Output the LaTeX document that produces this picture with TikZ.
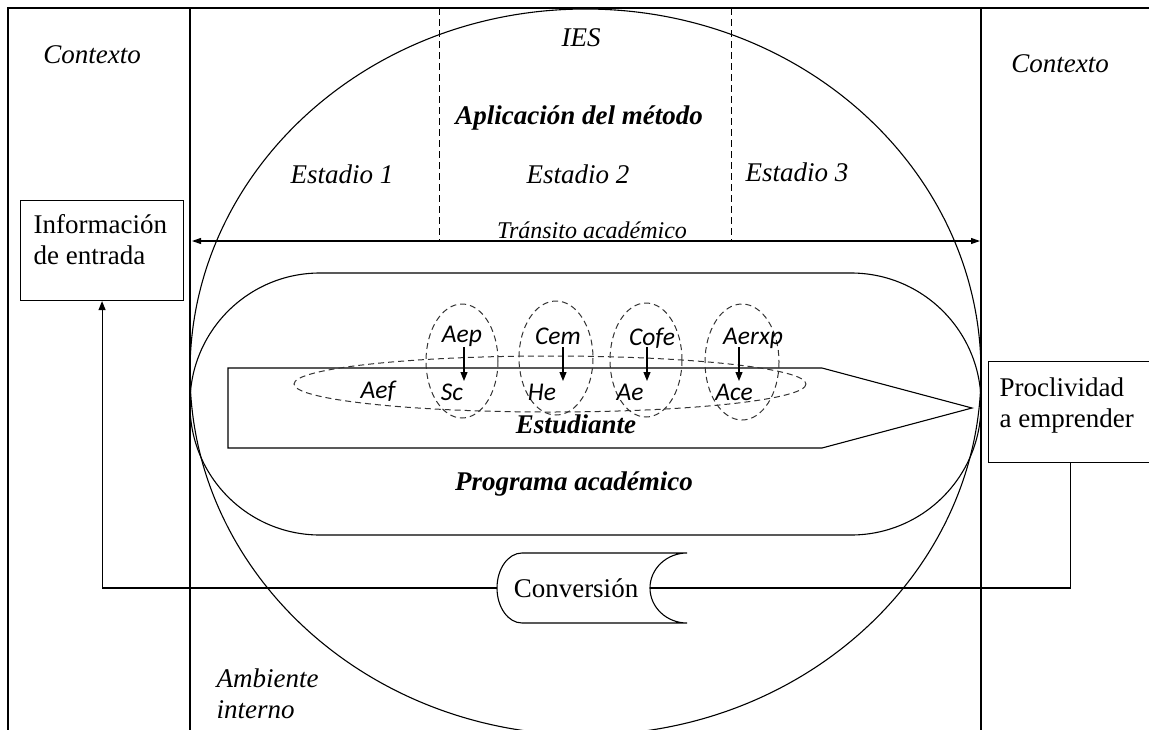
\documentclass[tikz,border=0pt]{standalone}
\usepackage{fontspec}
\setmainfont{Liberation Serif}
\newfontfamily\calfont{Carlito}
\usetikzlibrary{arrows.meta}
\begin{document}
\begin{tikzpicture}[x=1pt,y=-1pt,line width=1.1pt,
  it/.style={font=\fontsize{27}{31}\selectfont\itshape,inner sep=0pt},
  rm/.style={font=\fontsize{27}{31}\selectfont,inner sep=0pt},
  bi/.style={font=\fontsize{27}{31}\selectfont\bfseries\itshape,inner sep=0pt},
  cal/.style={font=\fontsize{25.5}{30}\selectfont\calfont\itshape,inner sep=0pt},
  dsh/.style={dash pattern=on 6pt off 4pt,line width=1pt,draw=black!80},
  tip/.style={-{Triangle[length=9pt,width=7pt]}},
  boxnode/.style={draw,inner sep=0pt,anchor=north west}]
\useasboundingbox (0,0) rectangle (1149,729);
\begin{scope}
\clip (0,0) rectangle (1149,729);
% frame and column lines
\draw (8,740) -- (8,8) -- (1160,8);
\draw (190,8) -- (190,740);
\draw (981,8) -- (981,740);
% big circle (IES)
\draw (585.5,372) ellipse [x radius=395.5, y radius=363];
% stage separators
\draw[dash pattern=on 7pt off 4pt,line width=1pt] (439,8) -- (439,241);
\draw[dash pattern=on 7pt off 4pt,line width=1pt] (731,8) -- (731,241);
% transito arrow
\coordinate (tl) at (192,241);
\coordinate (tr) at (980,241);
\draw[{Triangle[length=9pt,width=6pt]}-{Triangle[length=9pt,width=6pt]}] (tl) -- (tr);
% programa academico
\draw[rounded corners=130pt] (190,273) rectangle (981,535);
% estudiante pentagon
\draw (228,368) -- (822,368) -- (972,408) -- (822,448) -- (228,448) -- cycle;
% dashed ellipses
\draw[dsh] (550,384) ellipse [x radius=256, y radius=28];
\draw[dsh] (462,361) ellipse [x radius=36, y radius=57];
\draw[dsh] (556,358) ellipse [x radius=37, y radius=57];
\draw[dsh] (646,360) ellipse [x radius=36, y radius=57];
\draw[dsh] (742,362) ellipse [x radius=37, y radius=58];
% texts
\node[it,anchor=base] (ctxl) at (92,63) {Contexto};
\node[it,anchor=base] (ctxr) at (1060,72) {Contexto};
\node[it,anchor=base] (ies) at (581,46) {IES};
\node[bi,anchor=base] (apl) at (579,124) {Aplicación del método};
\node[it,anchor=base] (e1) at (342,183) {Estadio 1};
\node[it,anchor=base] (e2) at (578,183) {Estadio 2};
\node[it,anchor=base] (e3) at (797,181) {Estadio 3};
\node[it,anchor=base,font=\fontsize{24}{28}\selectfont\itshape] (tra) at (592,238) {Tránsito académico};
\node[bi,anchor=base] (est) at (576,433) {Estudiante};
\node[bi,anchor=base] (prog) at (574,490) {Programa académico};
\node[it,anchor=north west,align=left] (amb) at (216,668) {Ambiente\\interno};
% calibri labels
\node[cal] (aep) at (462,336) {Aep};
\node[cal] (cem) at (558,336) {Cem};
\node[cal] (cofe) at (652,338) {Cofe};
\node[cal] (aerxp) at (753,338) {Aerxp};
\node[cal] (aef) at (378,391) {Aef};
\node[cal] (sc) at (452,392) {Sc};
\node[cal] (he) at (542,392) {He};
\node[cal] (ae) at (630,392) {Ae};
\node[cal] (ace) at (734,392) {Ace};
\coordinate (a1s) at (464,347); \coordinate (a1e) at (464,381);
\coordinate (a2s) at (563,347); \coordinate (a2e) at (563,381);
\coordinate (a3s) at (647,347); \coordinate (a3e) at (647,381);
\coordinate (a4s) at (739,347); \coordinate (a4e) at (739,381);
\draw[tip] (a1s) -- (a1e);
\draw[tip] (a2s) -- (a2e);
\draw[tip] (a3s) -- (a3e);
\draw[tip] (a4s) -- (a4e);
% input / output boxes
\node[boxnode,minimum width=163pt,minimum height=100pt] (info) at (20,200) {};
\node[rm,anchor=north west,align=left] (infot) at (33,214) {Información\\de entrada};
\node[boxnode,minimum width=164pt,minimum height=101pt] (pro) at (988,361) {};
\node[rm,anchor=north west,align=left] (prot) at (999,377) {Proclividad\\a emprender};
% conversion shape
\draw (522,553) -- (687,553)
  .. controls (666.6,553) and (650,568.7) .. (650,588)
  .. controls (650,607.3) and (666.6,623) .. (687,623)
  -- (522,623)
  .. controls (508.2,623) and (497,607.3) .. (497,588)
  .. controls (497,568.7) and (508.2,553) .. (522,553);
\coordinate (convL) at (497,588);
\coordinate (convR) at (650,588);
\node[rm] (conv) at (576,588) {Conversión};
% connectors
\draw (pro.south) |- (convR);
\draw[tip] (convL) -| (info.south);
\end{scope}
\end{tikzpicture}
\end{document}
